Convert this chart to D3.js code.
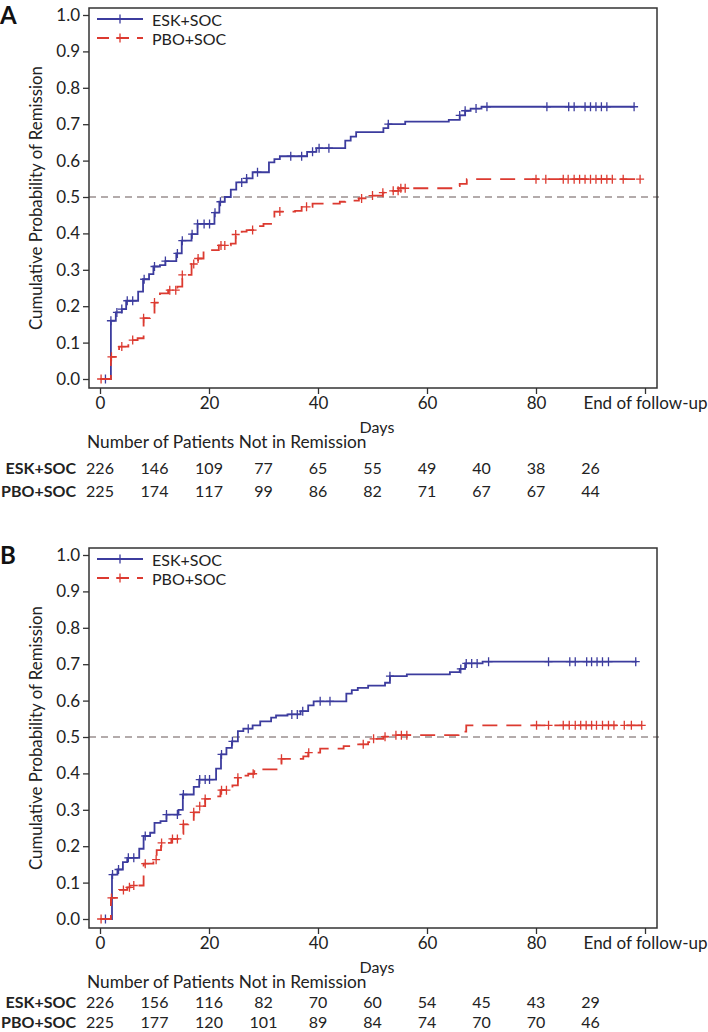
<!DOCTYPE html>
<html><head><meta charset="utf-8">
<script src="https://cdn.jsdelivr.net/npm/d3@7"></script>
<style>
body{margin:0;background:#fff;}
svg{display:block;font-family:Lato,"Open Sans",sans-serif;}
</style></head><body>
<svg id="chart" width="708" height="1032"></svg>
<script>
// ---------- DATA ----------
const seriesNames = ["ESK+SOC", "PBO+SOC"];
const xTickValues = [0, 20, 40, 60, 80, 100];
const xTickLabels = ["0", "20", "40", "60", "80", "End of follow-up"];
const yTickValues = [0, 0.1, 0.2, 0.3, 0.4, 0.5, 0.6, 0.7, 0.8, 0.9, 1.0];
const riskDays = [0, 10, 20, 30, 40, 50, 60, 70, 80, 90];

// Panel A
const aEskTimes  = [0, 2.0, 2.9, 4.0, 4.8, 7.0, 7.9, 9.0, 9.8, 11.0, 12.0, 14.0, 15.0, 16.8, 17.9, 21.0, 21.9, 22.9, 24.0, 25.0, 26.9, 28.0, 31.0, 32.0, 33.0, 38.0, 39.7, 45.0, 46.0, 47.0, 52.0, 52.9, 56.0, 64.0, 66.0, 67.0, 68.0, 70.0];
const aEskValues = [0, 0.160, 0.183, 0.192, 0.215, 0.240, 0.274, 0.288, 0.309, 0.313, 0.324, 0.345, 0.380, 0.398, 0.426, 0.457, 0.487, 0.500, 0.520, 0.540, 0.551, 0.568, 0.595, 0.604, 0.612, 0.624, 0.634, 0.655, 0.666, 0.678, 0.689, 0.700, 0.707, 0.712, 0.724, 0.737, 0.743, 0.748];
const aEskEnd = 98;
const aEskCensor = [1.0, 2.0, 3.1, 4.0, 5.0, 6.0, 8.1, 10.0, 12.0, 14.2, 15.1, 16.9, 17.9, 19.1, 20.1, 21.1, 22.1, 26.0, 26.9, 28.9, 35.0, 37.0, 39.0, 40.2, 42.0, 52.9, 66.0, 67.0, 69.0, 71.0, 82.0, 86.0, 87.0, 89.0, 90.0, 91.0, 92.0, 93.0, 98.0];

const aPboTimes  = [0, 2.0, 3.5, 5.2, 6.0, 6.9, 8.0, 9.2, 10.0, 11.0, 12.5, 14.2, 15.1, 16.8, 18.0, 19.0, 21.8, 24.0, 24.9, 26.0, 26.9, 29.0, 30.0, 32.0, 35.8, 37.0, 39.0, 44.0, 45.0, 47.5, 50.0, 51.9, 52.9, 54.8, 64.8, 66.0, 67.3];
const aPboValues = [0, 0.061, 0.089, 0.098, 0.107, 0.112, 0.167, 0.173, 0.210, 0.235, 0.244, 0.254, 0.286, 0.316, 0.331, 0.354, 0.367, 0.372, 0.397, 0.405, 0.409, 0.420, 0.426, 0.460, 0.462, 0.473, 0.482, 0.487, 0.490, 0.496, 0.504, 0.512, 0.517, 0.524, 0.530, 0.536, 0.549];
const aPboEnd = 99.3;
const aPboCensor = [0.2, 2.1, 4.0, 6.0, 8.0, 10.0, 12.8, 13.9, 15.1, 17.2, 18.0, 22.2, 22.9, 24.9, 28.0, 33.0, 37.9, 48.0, 50.0, 51.9, 53.8, 54.7, 55.2, 56.0, 80.0, 81.8, 85.0, 85.9, 87.0, 88.0, 89.0, 90.0, 91.0, 92.0, 93.0, 94.0, 96.0, 99.1];

const aRiskEsk = [226, 146, 109, 77, 65, 55, 49, 40, 38, 26];
const aRiskPbo = [225, 174, 117, 99, 86, 82, 71, 67, 67, 44];

// Panel B
const bEskTimes  = [0, 2.2, 3.2, 4.2, 5.0, 7.2, 8.0, 9.2, 10.0, 11.1, 12.2, 14.4, 15.2, 17.2, 18.2, 21.3, 22.2, 23.2, 24.2, 25.3, 26.3, 28.0, 29.4, 31.4, 32.3, 34.4, 36.8, 38.2, 39.2, 45.2, 46.2, 47.3, 49.2, 52.3, 53.2, 56.3, 64.2, 66.0, 67.0, 70.2];
const bEskValues = [0, 0.122, 0.136, 0.156, 0.168, 0.193, 0.228, 0.237, 0.264, 0.269, 0.287, 0.300, 0.342, 0.363, 0.383, 0.413, 0.452, 0.470, 0.488, 0.516, 0.523, 0.532, 0.543, 0.553, 0.559, 0.562, 0.571, 0.587, 0.598, 0.619, 0.629, 0.635, 0.641, 0.649, 0.667, 0.672, 0.678, 0.687, 0.702, 0.707];
const bEskEnd = 98.5;
const bEskCensor = [1.0, 2.3, 3.4, 5.2, 6.2, 8.3, 12.2, 14.2, 15.3, 18.3, 19.3, 20.1, 22.3, 24.3, 27.2, 35.2, 36.2, 37.2, 40.4, 42.2, 53.2, 66.2, 67.2, 68.2, 69.2, 71.3, 82.3, 86.2, 87.2, 89.3, 90.2, 91.2, 92.2, 93.3, 98.3];

const bPboTimes  = [0, 2.0, 3.5, 5.0, 6.2, 8.0, 9.8, 10.4, 11.2, 13.1, 14.3, 15.3, 16.2, 17.2, 18.2, 19.3, 20.8, 22.1, 24.3, 25.3, 26.3, 27.2, 28.3, 29.7, 33.3, 37.3, 38.2, 40.4, 44.7, 47.0, 49.2, 50.2, 52.0, 53.2, 65.8, 67.2];
const bPboValues = [0, 0.058, 0.080, 0.087, 0.092, 0.152, 0.163, 0.189, 0.209, 0.220, 0.234, 0.260, 0.269, 0.293, 0.310, 0.330, 0.337, 0.354, 0.367, 0.388, 0.394, 0.399, 0.406, 0.411, 0.440, 0.447, 0.457, 0.468, 0.475, 0.480, 0.486, 0.495, 0.501, 0.505, 0.515, 0.532];
const bPboEnd = 99.4;
const bPboCensor = [0.2, 2.1, 4.3, 5.4, 6.2, 8.3, 10.3, 11.3, 13.3, 14.2, 15.3, 17.2, 18.3, 19.3, 22.3, 23.2, 25.3, 28.1, 33.3, 38.3, 48.3, 50.2, 52.3, 54.3, 55.3, 56.3, 80.1, 82.3, 85.0, 86.1, 87.2, 88.2, 89.2, 90.2, 91.1, 92.2, 93.3, 94.3, 96.2, 97.5, 99.4];

const bRiskEsk = [226, 156, 116, 82, 70, 60, 54, 45, 43, 29];
const bRiskPbo = [225, 177, 120, 101, 89, 84, 74, 70, 70, 46];

// ---------- DRAW ----------
const svg = d3.select("#chart");
const BLUE = "#3c3c9e", RED = "#dc3a30", INK = "#222";

function drawPanel(cfg) {
  const g = svg.append("g").attr("transform", `translate(0,${cfg.dy})`);
  const box = {l: 89, r: 657, t: 8, b: 388};
  const x = d3.scaleLinear().domain([0, 100]).range([100, 645]);
  const y = d3.scaleLinear().domain([0, 1]).range([379, 15]);

  // panel letter
  g.append("text").attr("x", 0).attr("y", 24).attr("font-size", 24)
    .attr("font-weight", "bold").attr("fill", "#111").text(cfg.letter);

  // reference line at 0.5
  g.append("line").attr("x1", box.l).attr("x2", box.r + 2)
    .attr("y1", y(0.5)).attr("y2", y(0.5))
    .attr("stroke", "#9a9090").attr("stroke-width", 1.5).attr("stroke-dasharray", "7,5");

  // curves
  cfg.series.forEach(s => {
    const pts = s.times.map((t, i) => [t, s.values[i]]);
    pts.push([s.end, s.values[s.values.length - 1]]);
    const line = d3.line().x(d => x(d[0])).y(d => y(d[1])).curve(d3.curveStepAfter);
    g.append("path").attr("d", line(pts)).attr("fill", "none")
      .attr("stroke", s.color).attr("stroke-width", 1.8)
      .attr("stroke-dasharray", s.dash || null);
    const valueAt = t => { let v = 0; s.times.forEach((tt, i) => { if (tt <= t + 1e-9) v = s.values[i]; }); return v; };
    g.append("g").selectAll("path").data(s.censor).join("path")
      .attr("d", t => { const cx = x(t), cy = y(valueAt(t)); return `M${cx-4},${cy}H${cx+4}M${cx},${cy-4.5}V${cy+4.5}`; })
      .attr("stroke", s.color).attr("stroke-width", 1.3).attr("fill", "none");
  });

  // box
  g.append("rect").attr("x", box.l).attr("y", box.t)
    .attr("width", box.r - box.l).attr("height", box.b - box.t)
    .attr("fill", "none").attr("stroke", "#333").attr("stroke-width", 1.5);

  // axes
  const xa = d3.axisBottom(x).tickValues(xTickValues)
    .tickFormat((d, i) => xTickLabels[i]).tickSize(6).tickPadding(3);
  const xg = g.append("g").attr("transform", `translate(0,${box.b})`).call(xa);
  xg.select(".domain").remove();
  xg.selectAll("line").attr("stroke", "#333").attr("stroke-width", 1.3);
  xg.selectAll("text").attr("font-size", 17).attr("fill", INK).attr("font-family", "Lato");

  const ya = d3.axisLeft(y).tickValues(yTickValues).tickFormat(d3.format(".1f")).tickSize(6).tickPadding(3);
  const yg = g.append("g").attr("transform", `translate(${box.l},0)`).call(ya);
  yg.select(".domain").remove();
  yg.selectAll("line").attr("stroke", "#333").attr("stroke-width", 1.3);
  yg.selectAll("text").attr("font-size", 17).attr("fill", INK).attr("font-family", "Lato");

  // y title
  g.append("text").attr("transform", `translate(35,${(box.t + box.b) / 2}) rotate(-90)`)
    .attr("text-anchor", "middle").attr("dominant-baseline", "central")
    .attr("font-size", 16.8).attr("fill", INK).text("Cumulative Probability of Remission");

  // legend
  cfg.series.forEach((s, i) => {
    const ly = 19 + i * 19;
    g.append("line").attr("x1", 97).attr("x2", 143).attr("y1", ly).attr("y2", ly)
      .attr("stroke", s.color).attr("stroke-width", 1.8).attr("stroke-dasharray", s.dash ? "12,8" : null);
    g.append("path").attr("d", `M116,${ly}H124M120,${ly-4.5}V${ly+4.5}`)
      .attr("stroke", s.color).attr("stroke-width", 1.3);
    g.append("text").attr("x", 152).attr("y", ly).attr("dominant-baseline", "central")
      .attr("font-size", 16).attr("fill", INK).text(s.name);
  });

  // Days label
  g.append("text").attr("x", 377).attr("y", cfg.daysY).attr("text-anchor", "middle")
    .attr("dominant-baseline", "central").attr("font-size", 16).attr("fill", INK).text("Days");
  g.append("text").attr("x", 87).attr("y", cfg.daysY + 15).attr("dominant-baseline", "central")
    .attr("font-size", 17.3).attr("fill", INK).text("Number of Patients Not in Remission");

  // risk table
  cfg.risk.forEach((r, i) => {
    const ry = cfg.riskY[i];
    g.append("text").attr("x", 76).attr("y", ry).attr("text-anchor", "end")
      .attr("dominant-baseline", "central").attr("font-size", 16).attr("font-weight", "bold")
      .attr("fill", INK).text(seriesNames[i]);
    g.append("g").selectAll("text").data(r).join("text")
      .attr("x", (d, j) => x(riskDays[j])).attr("y", ry).attr("text-anchor", "middle")
      .attr("dominant-baseline", "central").attr("font-size", 16).attr("fill", INK).text(d => d);
  });
}

drawPanel({
  letter: "A", dy: 0, daysY: 426,
  series: [
    {name: seriesNames[0], times: aEskTimes, values: aEskValues, end: aEskEnd, censor: aEskCensor, color: BLUE},
    {name: seriesNames[1], times: aPboTimes, values: aPboValues, end: aPboEnd, censor: aPboCensor, color: RED, dash: "15,9"}
  ],
  risk: [aRiskEsk, aRiskPbo], riskY: [467, 490]
});
drawPanel({
  letter: "B", dy: 540, daysY: 426,
  series: [
    {name: seriesNames[0], times: bEskTimes, values: bEskValues, end: bEskEnd, censor: bEskCensor, color: BLUE},
    {name: seriesNames[1], times: bPboTimes, values: bPboValues, end: bPboEnd, censor: bPboCensor, color: RED, dash: "15,9"}
  ],
  risk: [bRiskEsk, bRiskPbo], riskY: [461, 481]
});
</script>
</body></html>
